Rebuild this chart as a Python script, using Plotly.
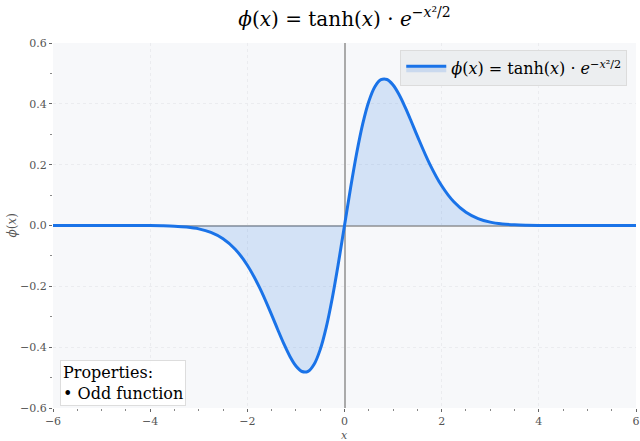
import plotly.graph_objects as go

x_vals = [-6, -5.5, -5, -4.5, -4, -3.75, -3.5, -3.25, -3, -2.75, -2.5, -2.25,
          -2, -1.75, -1.5, -1.375, -1.25, -1.125, -1, -0.875, -0.75, -0.625,
          -0.5, -0.375, -0.25, -0.125, 0, 0.125, 0.25, 0.375, 0.5, 0.625,
          0.75, 0.875, 1, 1.125, 1.25, 1.375, 1.5, 1.75, 2, 2.25, 2.5, 2.75,
          3, 3.25, 3.5, 3.75, 4, 4.5, 5, 5.5, 6]
phi_vals = [0, 0, 0, 0, -0.0003, -0.0009, -0.0022, -0.0051, -0.0110, -0.0226,
            -0.0434, -0.0778, -0.1305, -0.2036, -0.2939, -0.3420, -0.3884,
            -0.4299, -0.4619, -0.4800, -0.4794, -0.4562, -0.4078, -0.3341,
            -0.2374, -0.1234, 0, 0.1234, 0.2374, 0.3341, 0.4078, 0.4562,
            0.4794, 0.4800, 0.4619, 0.4299, 0.3884, 0.3420, 0.2939, 0.2036,
            0.1305, 0.0778, 0.0434, 0.0226, 0.0110, 0.0051, 0.0022, 0.0009,
            0.0003, 0, 0, 0, 0]

x_ticks = [-6, -4, -2, 0, 2, 4, 6]
y_ticks = [-0.6, -0.4, -0.2, 0.0, 0.2, 0.4, 0.6]
y_tick_text = ["\u22120.6", "\u22120.4", "\u22120.2", "0.0", "0.2", "0.4", "0.6"]

formula = "<i>\u03d5</i>(<i>x</i>) = tanh(<i>x</i>) \u00b7 <i>e</i><sup>\u2212<i>x</i>\u00b2/2</sup>"
serif = "DejaVu Serif"
blue = "#1a73e8"

fig = go.Figure()
fig.add_trace(go.Scatter(
    x=x_vals, y=phi_vals, mode="lines", name=formula,
    line=dict(color=blue, width=3, shape="spline"),
    fill="tozeroy", fillcolor="rgba(26,115,232,0.16)",
))

axis_common = dict(
    showline=False, ticks="outside", ticklen=3, tickcolor="#666",
    tickfont=dict(family=serif, size=11, color="#555"),
    showgrid=True, gridcolor="#ebecef", griddash="dot", gridwidth=1,
    zeroline=True, zerolinecolor="#aaaaaa", zerolinewidth=1.5,
    automargin=False, ticklabeloverflow="allow",
)

fig.update_xaxes(range=[-6, 6], tickvals=x_ticks, **axis_common,
                 minor=dict(dtick=0.5, ticks="outside", ticklen=2, tickcolor="#888", showgrid=False))
fig.update_yaxes(range=[-0.6, 0.6], tickvals=y_ticks, ticktext=y_tick_text, **axis_common,
                 minor=dict(dtick=0.1, ticks="outside", ticklen=2, tickcolor="#888", showgrid=False))

# axis titles
fig.add_annotation(xref="paper", yref="paper", x=0.5, y=-0.074, yanchor="middle",
                   text="<i>x</i>", showarrow=False,
                   font=dict(family=serif, size=11, color="#555"))
fig.add_annotation(xref="paper", yref="paper", x=-0.072, y=0.5, xanchor="center",
                   text="<i>\u03d5</i>(<i>x</i>)", showarrow=False, textangle=-90,
                   font=dict(family=serif, size=12, color="#555"))

fig.add_annotation(
    xref="paper", yref="paper", x=0.012, y=0.005, xanchor="left", yanchor="bottom",
    text="Properties:<br>\u2022 Odd function", align="left", showarrow=False,
    font=dict(family=serif, size=16, color="black"),
    bgcolor="rgba(255,255,255,0.9)", bordercolor="#dddddd", borderwidth=1, borderpad=2,
)

fig.update_layout(
    width=640, height=441,
    margin=dict(l=53, r=4, t=43, b=33, autoexpand=False),
    paper_bgcolor="white", plot_bgcolor="#f7f8fa",
    font=dict(family=serif),
    title=dict(text=formula, x=0.5, xref="paper", xanchor="center", y=0.958, yanchor="middle",
               font=dict(family=serif, size=20, color="black")),
    showlegend=True,
    legend=dict(x=0.985, y=0.98, xanchor="right", yanchor="top", itemwidth=40,
                bgcolor="#eceef0", bordercolor="#dcdcdc", borderwidth=1,
                font=dict(family=serif, size=16, color="black")),
)

# drop the page's default body margin so the figure sits at the window corner
fig.write_html("out.html", config={"displayModeBar": False},
               post_script="document.body.style.margin='0px';")
